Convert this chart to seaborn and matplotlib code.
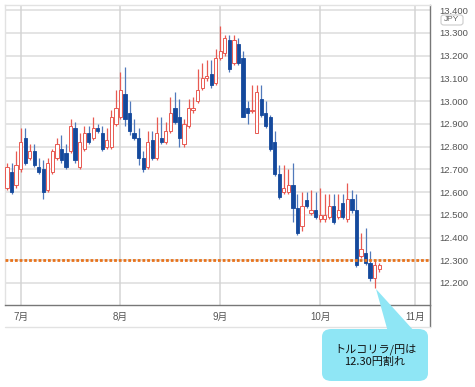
import numpy as np
import pandas as pd
import seaborn as sns
import matplotlib.pyplot as plt
from matplotlib.patches import FancyBboxPatch, Polygon
from matplotlib.lines import Line2D

# TRY/JPY daily candles, 2021-06-28 .. 2021-10-21
opens = [12.62, 12.69, 12.63, 12.70, 12.84, 12.75, 12.78, 12.71, 12.70, 12.61,
         12.69, 12.75, 12.79, 12.77, 12.78, 12.88, 12.71, 12.79, 12.86, 12.84,
         12.88, 12.86, 12.80, 12.80, 12.90, 12.93, 13.03, 12.95, 12.86, 12.84,
         12.75, 12.71, 12.83, 12.75, 12.84, 12.82, 12.87, 12.97, 12.93, 12.81,
         12.89, 12.96, 13.00, 13.06, 13.10, 13.12, 13.08, 13.19, 13.21, 13.27,
         13.17, 13.25, 13.19, 12.97, 12.955, 12.86, 13.01, 12.95, 12.93, 12.82,
         12.68, 12.60, 12.60, 12.63, 12.53, 12.45, 12.565, 12.51, 12.52, 12.48,
         12.48, 12.49, 12.54, 12.49, 12.55, 12.48, 12.57, 12.52, 12.32, 12.33,
         12.29, 12.22, 12.26]
highs = [12.73, 12.73, 12.78, 12.88, 12.88, 12.81, 12.81, 12.75, 12.74, 12.75,
         12.79, 12.84, 12.85, 12.81, 12.92, 12.91, 12.86, 12.89, 12.89, 12.93,
         12.90, 12.89, 12.88, 12.96, 13.05, 13.13, 13.15, 13.00, 12.92, 12.88,
         12.78, 12.87, 12.87, 12.93, 12.93, 12.91, 13.02, 13.04, 13.01, 12.92,
         13.01, 13.02, 13.14, 13.17, 13.18, 13.18, 13.23, 13.33, 13.29, 13.29,
         13.29, 13.28, 13.22, 13.00, 13.07, 13.07, 13.07, 13.00, 12.94, 12.87,
         12.72, 12.72, 12.70, 12.73, 12.59, 12.60, 12.60, 12.61, 12.60, 12.62,
         12.59, 12.59, 12.59, 12.59, 12.59, 12.64, 12.61, 12.59, 12.42, 12.44,
         12.34, 12.30, 12.29]
lows = [12.61, 12.59, 12.62, 12.69, 12.72, 12.74, 12.71, 12.68, 12.57, 12.60,
        12.68, 12.74, 12.73, 12.70, 12.77, 12.73, 12.70, 12.78, 12.81, 12.83,
        12.86, 12.78, 12.79, 12.79, 12.89, 12.92, 12.89, 12.85, 12.83, 12.72,
        12.69, 12.70, 12.74, 12.74, 12.81, 12.81, 12.86, 12.90, 12.80, 12.80,
        12.88, 12.95, 12.99, 13.05, 13.09, 13.06, 13.07, 13.18, 13.20, 13.13,
        13.16, 13.16, 12.93, 12.90, 12.95, 12.86, 12.93, 12.88, 12.78, 12.67,
        12.57, 12.59, 12.59, 12.47, 12.41, 12.43, 12.53, 12.50, 12.48, 12.47,
        12.47, 12.48, 12.46, 12.48, 12.48, 12.47, 12.51, 12.27, 12.31, 12.28,
        12.21, 12.18, 12.25]
closes = [12.71, 12.60, 12.72, 12.82, 12.73, 12.78, 12.72, 12.69, 12.60, 12.73,
          12.78, 12.81, 12.74, 12.71, 12.89, 12.74, 12.82, 12.86, 12.82, 12.88,
          12.87, 12.79, 12.83, 12.93, 12.97, 13.05, 12.92, 12.87, 12.84, 12.75,
          12.70, 12.82, 12.75, 12.86, 12.82, 12.87, 12.95, 12.91, 12.84, 12.90,
          12.97, 12.97, 13.05, 13.10, 13.11, 13.07, 13.19, 13.22, 13.28, 13.14,
          13.27, 13.17, 12.93, 12.95, 12.96, 13.04, 12.94, 12.89, 12.79, 12.68,
          12.58, 12.62, 12.63, 12.53, 12.42, 12.54, 12.54, 12.52, 12.49, 12.50,
          12.50, 12.54, 12.47, 12.52, 12.49, 12.57, 12.52, 12.28, 12.35, 12.29,
          12.22, 12.28, 12.28]

month_labels = ['7月', '8月', '9月', '10月', '11月']
yticks = [12.2, 12.3, 12.4, 12.5, 12.6, 12.7, 12.8, 12.9, 13.0, 13.1, 13.2, 13.3, 13.4]
level = 12.30
note = 'トルコリラ/円は\n12.30円割れ'

sns.set_style('white')
plt.rcParams['font.family'] = ['Liberation Sans', 'Noto Sans CJK JP']

df = pd.DataFrame({'open': opens, 'high': highs, 'low': lows, 'close': closes},
                  index=pd.bdate_range('2021-06-28', periods=len(opens)))
df['x'] = np.arange(len(df))
df['up'] = df['close'] >= df['open']

# month starts (business-day index) for ticks / grid
days = pd.bdate_range('2021-06-28', '2021-11-10')
month_pos = [i for i in range(1, len(days)) if days[i].month != days[i - 1].month]

RED = '#e85a52'
BLUE = '#14499c'
BLUE_WICK = '#5079bb'

fig = plt.figure(figsize=(4.75, 3.87), dpi=100)
ax = fig.add_axes([5 / 475, 1 - 305 / 387, 425 / 475, 300 / 387])

for y in yticks:
    ax.axhline(y, color='#dcdcdc', lw=1.1, zorder=0)
for p in month_pos:
    ax.axvline(p, color='#d4d4d4', lw=1.1, zorder=0)

up = df[df['up']]
dn = df[~df['up']]

ax.vlines(up['x'], up['low'], up['high'], color=RED, lw=0.9, zorder=2)
ax.vlines(dn['x'], dn['low'], dn['high'], color=BLUE_WICK, lw=0.9, zorder=2)

w = 0.72
h_up = np.maximum(up['close'] - up['open'], 0.004)
h_dn = np.maximum(dn['open'] - dn['close'], 0.004)
ax.bar(up['x'], h_up, bottom=up['open'], width=w, facecolor='white',
       edgecolor=RED, linewidth=0.7, zorder=3)
ax.bar(dn['x'], h_dn, bottom=dn['close'], width=w, facecolor=BLUE,
       edgecolor=BLUE, linewidth=0.6, zorder=3)

ax.axhline(level, color='#e8731c', lw=2.0, linestyle=(0, (1.0, 0.7)),
           dash_capstyle='butt', zorder=4)

ax.set_xlim(-0.44, 93.2)
ax.set_ylim(12.103, 13.423)

ax.yaxis.tick_right()
ax.set_yticks(yticks)
ax.set_yticklabels([f'{v:.3f}' for v in yticks])
ax.set_xticks(month_pos)
ax.set_xticklabels(month_labels)
ax.tick_params(axis='y', length=0, pad=7, labelsize=6.8, labelcolor='#555555')
ax.tick_params(axis='x', length=0, pad=5, labelsize=7, labelcolor='#555555')
ax.set_xlabel('')
ax.set_ylabel('')

for side in ['top', 'left']:
    ax.spines[side].set_color('#e2e2e2')
    ax.spines[side].set_linewidth(1.0)
ax.spines['bottom'].set_color('#777777')
ax.spines['bottom'].set_linewidth(1.0)
ax.spines['right'].set_color('#777777')
ax.spines['right'].set_linewidth(1.0)


def fx(px):
    return px / 475


def fy(py):
    return 1 - py / 387


# extension of right axis and bottom frame under the date labels
fig.add_artist(Line2D([fx(430), fx(430)], [fy(305), fy(327)], color='#777777',
                      lw=1.0, transform=fig.transFigure))
fig.add_artist(Line2D([fx(5), fx(430)], [fy(327), fy(327)], color='#e2e2e2',
                      lw=1.0, transform=fig.transFigure))

# JPY tag (sits over the clipped 13.400 label, as in the source chart)
fig.add_artist(FancyBboxPatch((fx(441), fy(25)), fx(22), 10 / 387,
                              boxstyle='round,pad=0,rounding_size=0.006',
                              facecolor='white', edgecolor='#cccccc', lw=0.8,
                              transform=fig.transFigure, zorder=5))
fig.text(fx(452), fy(19.5), 'JPY', ha='center', va='center', fontsize=6,
         color='#666666', zorder=6)

# callout
cyan = '#8fe6f5'
fig.add_artist(Polygon([(fx(376), fy(289)), (fx(388), fy(332)), (fx(415), fy(332))],
                       closed=True, facecolor=cyan, edgecolor='none',
                       transform=fig.transFigure, zorder=5))
fig.add_artist(FancyBboxPatch((fx(322), fy(381)), fx(106), 52 / 387,
                              boxstyle='round,pad=0,rounding_size=0.02',
                              facecolor=cyan, edgecolor='none',
                              transform=fig.transFigure, zorder=5))
fig.text(fx(375), fy(355), note, ha='center', va='center', fontsize=8,
         linespacing=1.25, color='#111111', zorder=6,
         family=['Noto Sans CJK JP', 'DejaVu Sans'])

fig.savefig('out.png', dpi=100)
